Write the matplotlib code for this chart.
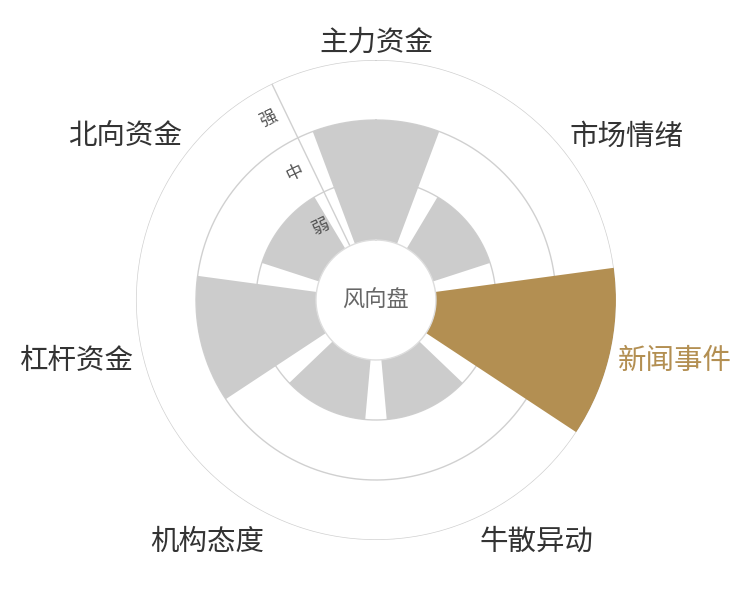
import numpy as np
import matplotlib.pyplot as plt

plt.rcParams['font.family'] = ['Noto Sans CJK SC', 'DejaVu Sans']

# data
categories = ['主力资金', '市场情绪', '新闻事件', '牛散异动', '机构态度', '杠杆资金', '北向资金']
levels = [2, 1, 3, 1, 1, 2, 1]
level_names = ['弱', '中', '强']
highlight = '新闻事件'
center_text = '风向盘'

grey = '#cccccc'
gold = '#b38f52'
line_c = '#d0d0d0'

n = len(categories)
step = 2 * np.pi / n
theta = np.arange(n) * step
colors = [gold if c == highlight else grey for c in categories]

fig = plt.figure(figsize=(7.5, 6), dpi=100)
ax = fig.add_axes([0.1813, 0.1, 0.64, 0.8], projection='polar')
ax.set_theta_zero_location('N')
ax.set_theta_direction(-1)
ax.set_rorigin(-1)
ax.set_rlim(0, 3)
ax.axis('off')

# rings + split line
ring_t = np.linspace(0, 2 * np.pi, 500)
for lv in range(1, len(level_names) + 1):
    ax.plot(ring_t, np.full_like(ring_t, lv), color=line_c, lw=1, zorder=1)
split = -step / 2
ax.plot([split, split], [0, 3], color=line_c, lw=1, zorder=1)

ax.bar(theta, levels, width=step * 0.8, bottom=0, color=colors, linewidth=0, zorder=2)

# hole
ax.plot(ring_t, np.zeros_like(ring_t), color='#dddddd', lw=1, zorder=3, clip_on=False)
ax.text(0, -1, center_text, ha='center', va='center', fontsize=16, color='#666666')

# level labels along the split line
rot = -np.degrees(split)
a = np.radians(90 - np.degrees(split) + 90)
off = (18 * np.cos(a), 18 * np.sin(a))
for i, name in enumerate(level_names):
    ax.annotate(name, xy=(split, i + 0.5), xytext=off, textcoords='offset pixels',
                ha='center', va='center', rotation=rot, rotation_mode='anchor',
                fontsize=12.5, color='#555555', annotation_clip=False)

# category labels
shift = {'bottom': (0, -6), 'center': (0, -6), 'top': (-4, -3)}
for th, name in zip(theta, categories):
    ang = np.radians(90 - np.degrees(th))
    dx, dy = np.cos(ang), np.sin(ang)
    ha = 'center' if abs(dx) < 0.3 else ('left' if dx > 0 else 'right')
    va = 'center' if abs(dy) < 0.3 else ('bottom' if dy > 0 else 'top')
    ax.annotate(name, xy=(th, 3 + 8 / 60), xytext=shift[va], textcoords='offset pixels',
                ha=ha, va=va, fontsize=20.5, annotation_clip=False,
                color=gold if name == highlight else '#333333')

fig.savefig('out.png', dpi=100, facecolor='white')
